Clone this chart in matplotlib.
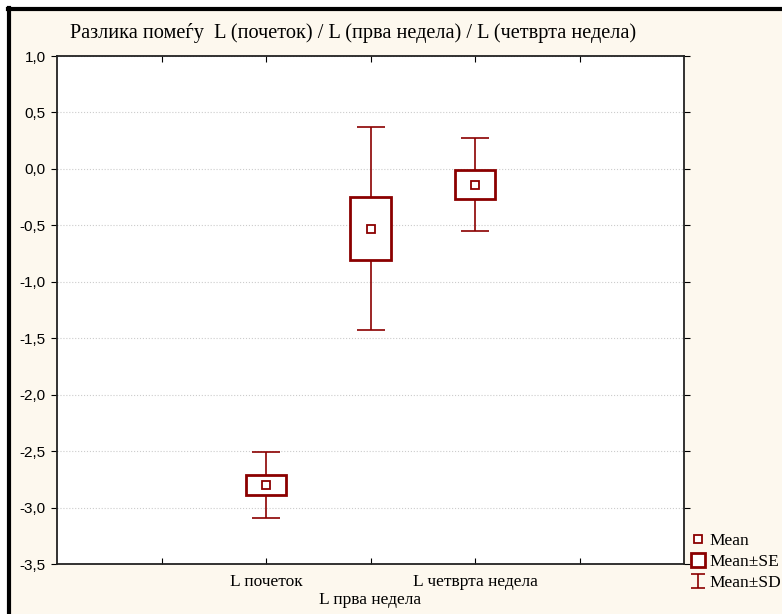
import matplotlib
matplotlib.use('Agg')
import matplotlib.pyplot as plt
from matplotlib.lines import Line2D
from matplotlib.path import Path

# data
groups = ['L почеток', 'L прва недела', 'L четврта недела']
means = [-2.80, -0.53, -0.14]
se = [0.09, 0.28, 0.13]
sd = [0.29, 0.90, 0.41]
yticks = [1.0, 0.5, 0.0, -0.5, -1.0, -1.5, -2.0, -2.5, -3.0, -3.5]
ytick_labels = ['1,0', '0,5', '0,0', '-0,5', '-1,0', '-1,5', '-2,0', '-2,5', '-3,0', '-3,5']
title = 'Разлика помеѓу  L (почеток) / L (прва недела) / L (четврта недела)'

red = '#8b0000'
bg = '#fdf8ee'
serif = 'Liberation Serif'
sans = 'Liberation Sans'

fig = plt.figure(figsize=(7.82, 6.14), dpi=100, facecolor='white')
# cream panel with thick black frame on left/top
fig.patches.append(plt.Rectangle((10/782, -0.1), 1.2, 1.1 - 10/614, transform=fig.transFigure,
                                 facecolor=bg, edgecolor='none', zorder=-10))
fig.add_artist(Line2D([9/782, 9/782], [0, 1 - 8/614], transform=fig.transFigure, color='black', lw=3))
fig.add_artist(Line2D([8/782, 1], [1 - 9/614, 1 - 9/614], transform=fig.transFigure, color='black', lw=3))

ax = fig.add_axes([57/782, 50/614, 627/782, 508/614])
ax.set_facecolor('white')

x = [2, 3, 4]
ax.errorbar(x, means, yerr=sd, fmt='none', ecolor=red, elinewidth=1.2,
            capsize=10, capthick=1.2, zorder=2)
ax.bar(x, [2 * s for s in se], width=0.39, bottom=[m - s for m, s in zip(means, se)],
       facecolor='white', edgecolor=red, linewidth=2, zorder=3)
ax.plot(x, means, ls='none', marker='s', ms=6, mfc='white', mec=red, mew=1.3, zorder=4)

ax.set_xlim(0, 6)
ax.set_ylim(-3.5, 1.0)
ax.set_yticks(yticks)
ax.set_yticklabels(ytick_labels, fontfamily=sans, fontsize=11)
ax.set_xticks([1, 2, 3, 4, 5])
ax.set_xticklabels(['', groups[0], '\n' + groups[1], groups[2], ''], fontfamily=serif, fontsize=12.5)
ax.tick_params(axis='x', direction='in', top=True, length=4, pad=7)
ax.tick_params(axis='y', direction='out', right=True, length=4, pad=4)
ax.grid(axis='y', color='#cccccc', ls=':', lw=0.8)
ax.set_axisbelow(True)
for sp in ax.spines.values():
    sp.set_linewidth(1.3)
    sp.set_color('#222222')

fig.text(70/782, 1 - 33/614, title, fontfamily=serif, fontsize=14.6, ha='left', va='center')

ipath = Path([(-1, 1), (1, 1), (0, 1), (0, -1), (-1, -1), (1, -1)],
             [Path.MOVETO, Path.LINETO, Path.MOVETO, Path.LINETO, Path.MOVETO, Path.LINETO])
handles = [
    Line2D([], [], ls='none', marker='s', ms=6, mfc='white', mec=red, mew=1.3),
    Line2D([], [], ls='none', marker='s', ms=10, mfc='white', mec=red, mew=2),
    Line2D([], [], ls='none', marker=ipath, ms=10, mec=red, mew=1.2),
]
fig.legend(handles, ['Mean', 'Mean±SE', 'Mean±SD'], loc='upper left',
           bbox_to_anchor=(688/782, 1 - 529/614), frameon=False,
           prop={'family': serif, 'size': 12.5}, handlelength=0.8, handletextpad=0.25,
           labelspacing=0.3, borderpad=0.2, borderaxespad=0)

fig.savefig('out.png', dpi=100, facecolor='white')
